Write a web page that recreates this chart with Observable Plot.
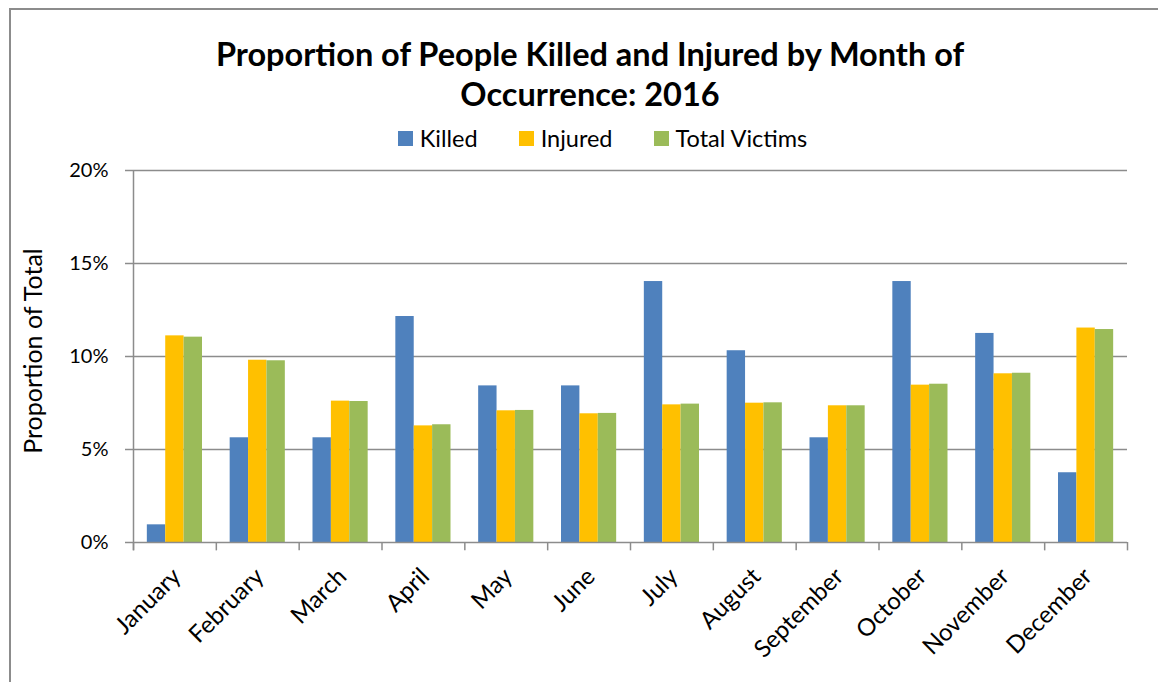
<!DOCTYPE html>
<html>
<head>
<meta charset="utf-8">
<script src="https://cdn.jsdelivr.net/npm/d3@7"></script>
<script src="https://cdn.jsdelivr.net/npm/@observablehq/plot@0.6"></script>
<style>
  html, body { margin: 0; padding: 0; background: #fff; overflow: hidden; }
  body { width: 1158px; height: 682px; position: relative; font-family: Lato, "Open Sans", sans-serif; color: #000; }
  #border { position: absolute; left: 9px; top: 8px; width: 1200px; height: 700px; border-top: 2px solid #8c8c8c; border-left: 2px solid #8c8c8c; }
  #title { position: absolute; left: 0; top: 34px; width: 1180px; text-align: center; font-weight: bold; font-size: 32.5px; line-height: 40px; }
  #legend { position: absolute; left: 0; top: 124px; width: 1205px; display: flex; justify-content: center; align-items: center; font-size: 23.5px; }
  .item { display: flex; align-items: center; margin: 0 20.5px; }
  .sw { width: 15px; height: 15px; margin-right: 7px; }
  #ytitle { position: absolute; left: 32px; top: 351px; transform: translate(-50%, -50%) rotate(-90deg); font-size: 25px; white-space: nowrap; }
  #chart { position: absolute; left: 0; top: 155px; }
</style>
</head>
<body>
<div id="border"></div>
<div id="title">Proportion of People Killed and Injured by Month of<br>Occurrence: 2016</div>
<div id="legend"></div>
<div id="ytitle">Proportion of Total</div>
<div id="chart"></div>
<script>
const months = ["January","February","March","April","May","June","July","August","September","October","November","December"];
const seriesNames = ["Killed","Injured","Total Victims"];
const seriesColors = ["#4F81BD","#FFC000","#9BBB59"];
const killed  = [0.95, 5.63, 5.63, 12.15, 8.42, 8.42, 14.03, 10.31, 5.63, 14.03, 11.24, 3.75];
const injured = [11.11, 9.80, 7.60, 6.27, 7.08, 6.92, 7.40, 7.49, 7.35, 8.46, 9.07, 11.53];
const total   = [11.04, 9.77, 7.58, 6.33, 7.10, 6.94, 7.44, 7.51, 7.35, 8.51, 9.10, 11.45];
const yTicks = [0, 5, 10, 15, 20];
const gridTicks = [5, 10, 15, 20];

const W = 1158, H = 527, mL = 133, mR = 31, mT = 15, mB = 140;
const pIn = 0.778, pOut = pIn / 2;
const step = (W - mL - mR) / months.length;
const bw = step * (1 - pIn);

const seriesValues = [killed, injured, total];
const rows = seriesValues.map((vals, s) => months.map((m, i) => ({month: m, value: vals[i], series: seriesNames[s]})));

// legend
const leg = document.getElementById("legend");
seriesNames.forEach((n, i) => {
  const it = document.createElement("div"); it.className = "item";
  const sw = document.createElement("div"); sw.className = "sw"; sw.style.background = seriesColors[i];
  const tx = document.createElement("span"); tx.textContent = n;
  it.appendChild(sw); it.appendChild(tx); leg.appendChild(it);
});

const grid = "#8c8c8c";
const chart = Plot.plot({
  width: W, height: H,
  marginLeft: mL, marginRight: mR, marginTop: mT, marginBottom: mB,
  style: {fontFamily: "Lato, 'Open Sans', sans-serif", background: "transparent", overflow: "visible"},
  x: {domain: months, paddingInner: pIn, paddingOuter: pOut, round: false, axis: null},
  y: {domain: [0, 20], axis: null},
  marks: [
    Plot.ruleY(gridTicks, {stroke: grid, strokeWidth: 1.5}),
    ...rows.map((r, s) => Plot.barY(r, {x: "month", y: "value", fill: seriesColors[s], dx: (s - 1) * bw})),
    Plot.ruleY([0], {stroke: grid, strokeWidth: 1.5}),
    Plot.ruleX(months, {x: d => d, dx: -step / 2, y1: 0, y2: -0.45, stroke: grid, strokeWidth: 1.5}),
    Plot.ruleX([months[months.length - 1]], {x: d => d, dx: step / 2, y1: 0, y2: -0.45, stroke: grid, strokeWidth: 1.5}),
    Plot.ruleX([months[0]], {x: d => d, dx: -step / 2, y1: -0.45, y2: 20, stroke: grid, strokeWidth: 1.5}),
    Plot.axisY({ticks: yTicks, tickFormat: d => d + "%", tickSize: 8, tickPadding: 17, fontSize: 20, stroke: grid, strokeWidth: 1.5, fill: "#000", label: null}),
    Plot.axisX({tickSize: 0, tickRotate: -45, tickPadding: 30, fontSize: 24, fill: "#000", label: null, dx: 2})
  ]
});
document.getElementById("chart").appendChild(chart);
</script>
</body>
</html>
